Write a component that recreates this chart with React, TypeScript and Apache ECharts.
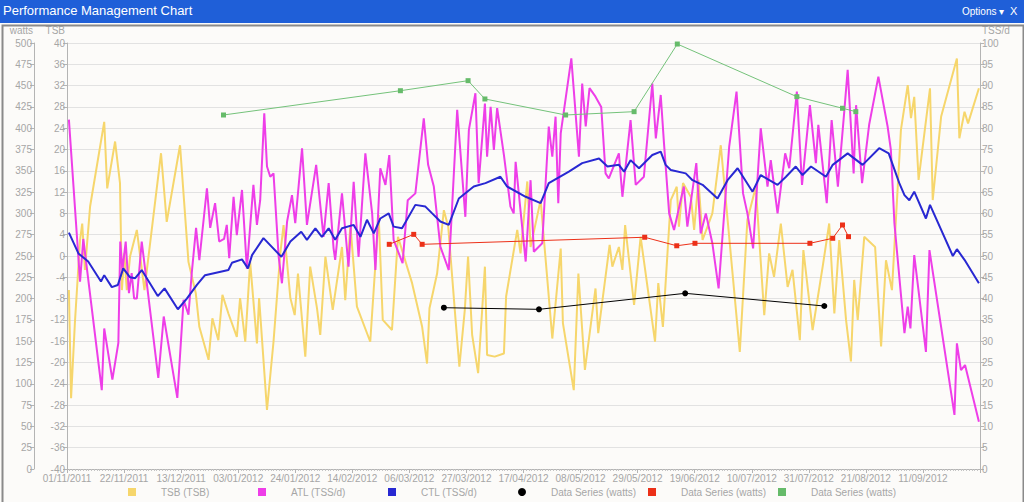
import React, { useEffect, useRef } from "react";
import * as echarts from "echarts";

// ---- axis setup (day index from 01/11/2011) ----
const START_UTC = Date.UTC(2011, 10, 1);
const DAY_MIN = 0;
const DAY_MAX = 336;
const DAY_STEP = 21;

const TSB_MIN = -40, TSB_MAX = 40, TSB_STEP = 4;
const TSS_MIN = 0, TSS_MAX = 100, TSS_STEP = 5;
const WATT_MIN = 0, WATT_MAX = 500, WATT_STEP = 25;

// ---- series: [day, value] ----
const tsbPoints: [number, number][] = [
  [0.7, -6.4], [1.5, -26.7], [2.9, -12.6], [4.8, 3], [5.6, 6.1], [6.6, -2.6], [8.5, 9.3],
  [13.7, 25.2], [14.8, 12.7], [17.7, 21.5], [19.5, 13.7], [20.2, -6.4], [21.1, 0.5], [22.0, -6.4],
  [23.2, -0.1], [25.7, 4.9], [28.5, -6.4], [34.6, 19.3], [36.7, 6.4], [41.6, 20.8], [44.7, -1.1],
  [47.4, -7], [48.7, -13.3], [52.1, -19.5], [53.5, -11.7], [55.7, -15.8], [57.2, -7.3], [59.4, -10.8],
  [62.5, -15.2], [63.7, -7.9], [65.6, -16.1], [67.4, -1.1], [69.9, -16.4], [70.7, -7.9], [73.6, -28.9],
  [76.0, -16.1], [78.5, 0.5], [79.7, 5.8], [82.2, -7.9], [83.8, -11.1], [85.0, -3.3], [87.7, -18.9],
  [89.5, -2], [92.0, -9.8], [93.2, -14.8], [95.1, -0.1], [97.8, -10.1], [101.2, 1.7], [102.4, -8.3],
  [104.3, 5.8], [106.7, -9.5], [111.6, -16.1], [114.7, 7.7], [116.2, -12], [119.6, -13.9], [121.8, 3.6],
  [127.0, -5.1], [130.7, -13.3], [132.5, -20.2], [133.4, -9.8], [136.2, -3.3], [138.7, 8.6], [140.3, 5.5],
  [143.0, -12], [144.4, -20.8], [146.4, -10.1], [147.6, -0.1], [149.1, -14.8], [151.3, -22], [153.8, -2],
  [154.6, -18.6], [157.4, -18.9], [160.8, -18.3], [161.6, -7.6], [165.7, 4.9], [166.9, 0.5], [169.4, 14],
  [170.6, 1.7], [174.3, 10.5], [178.6, -15.5], [181.7, 1.4], [182.5, -12.6], [186.5, -25.2], [188.2, -3.3],
  [190.6, -21.4], [194.5, -6.1], [195.5, -14.5], [199.7, 2.1], [200.7, -2], [203.1, 1.7], [204.4, -2.6],
  [205.4, 5.8], [208.7, -9.2], [211.1, 3.6], [216.4, -16.1], [217.6, -5.1], [219.3, -13.3], [222.2, 10.5],
  [224.4, 13], [225.2, 5.5], [226.7, 13.7], [229.6, 11.1], [230.8, 4.9], [232.4, 14.3], [233.9, 3],
  [237.5, 8], [240.6, 20.8], [244.7, -2], [247.6, -18], [250.4, 6.8], [253.5, 13], [256.6, -11.1],
  [258.4, 0.5], [260.2, -3.9], [262.7, 6.1], [265.2, -5.8], [267.0, -2.6], [269.7, -15.8], [271.0, 1.1],
  [274.4, -13.9], [278.1, -2], [280.5, 6.1], [282.4, -10.8], [284.2, 3], [286.7, -12], [288.5, -19.8],
  [289.7, -4.5], [291.0, -12], [293.4, 3.6], [297.4, 1.7], [299.6, -17], [301.4, -0.8], [303.6, -6.4],
  [306.9, 23.7], [309.4, 32.1], [310.6, 25.9], [311.8, 29.9], [313.4, 14.3], [317.6, 31.5], [318.6, 10.5],
  [321.7, 26.2], [327.5, 37.1], [328.4, 22.1], [330.3, 27.1], [331.6, 24.9], [335.6, 31.5],
];

const atlPoints: [number, number][] = [
  [0.7, 82], [4.8, 44], [6.0, 54], [12.8, 18.5], [13.7, 33], [16.7, 21], [18.9, 29.6], [19.6, 53.4],
  [20.4, 46.7], [21.6, 53.4], [22.8, 41.3], [23.8, 46], [24.7, 40], [25.7, 40], [27.5, 53.4], [33.6, 21.4],
  [35.6, 35.8], [40.6, 16.7], [42.9, 39.7], [44.7, 36.2], [45.9, 45.9], [47.5, 56.6], [48.7, 49],
  [51.5, 65.9], [52.7, 56.6], [54.5, 62.4], [56.0, 53.4], [57.8, 54], [58.8, 57.3], [59.7, 49.5],
  [61.3, 63.9], [62.5, 54.9], [64.4, 65.5], [66.2, 47], [68.6, 66.7], [69.9, 57.3], [71.1, 63.1],
  [72.6, 83.5], [73.6, 71], [74.8, 68.6], [76.0, 69.4], [77.9, 49.8], [79.1, 43.6], [81.0, 58.1],
  [82.8, 64.3], [84.0, 57.7], [86.5, 75.3], [88.3, 57.3], [91.7, 71.4], [94.4, 54.5], [96.3, 67.1],
  [98.1, 51.8], [98.7, 49.1], [101.2, 64.7], [102.4, 56.1], [103.6, 47.5], [105.5, 67.4], [107.3, 49.8],
  [109.8, 74.1], [112.3, 60], [113.5, 46.7], [115.3, 70.6], [117.2, 66.7], [118.6, 73.7], [120.2, 53.8],
  [123.5, 48.3], [125.4, 63.1], [128.2, 64.7], [131.3, 82.3], [132.9, 71.4], [135.0, 66.3], [137.4, 52.2],
  [140.5, 46.7], [143.6, 84.3], [146.6, 59.2], [147.9, 79.6], [150.3, 88.2], [151.5, 67.1], [153.8, 85.8],
  [154.6, 73.3], [155.9, 85], [157.1, 74.9], [158.3, 84.7], [160.8, 73.7], [163.2, 61.6], [164.4, 60],
  [165.1, 72.1], [167.5, 56.9], [168.8, 48.7], [170.6, 67.8], [171.8, 51], [174.9, 53], [177.3, 80.4],
  [178.6, 73.3], [179.8, 82.7], [180.8, 62.4], [181.7, 78.8], [185.6, 96.4], [186.5, 89], [188.4, 73.3],
  [189.6, 90.5], [190.9, 80.4], [192.3, 89.4], [194.5, 87.4], [196.6, 85], [198.2, 69.4], [199.4, 68.2],
  [203.1, 74.1], [204.4, 63.9], [207.4, 81.9], [209.3, 66.7], [212.3, 68.6], [215.4, 90.5], [216.7, 77.6],
  [218.5, 87.8], [219.7, 76.5], [221.6, 60], [223.4, 56.1], [227.0, 66.3], [228.3, 56.9], [231.6, 71.8],
  [233.2, 55.3], [235.1, 60], [237.5, 53], [239.8, 42.4], [243.7, 75.7], [246.4, 88.6], [248.8, 64.7],
  [250.4, 60], [252.5, 51.8], [255.3, 80], [257.8, 66.3], [259.0, 72.5], [261.5, 60], [264.3, 74.1],
  [265.8, 70.6], [268.6, 88.6], [270.5, 66.7], [273.4, 85.4], [275.6, 71.8], [276.5, 80.8], [279.6, 62.4],
  [281.4, 81.9], [283.7, 66.3], [286.1, 84.3], [287.3, 93.7], [289.5, 69.4], [290.4, 85.4], [292.6, 67.1],
  [295.2, 80.8], [298.6, 92.1], [302.0, 80.4], [303.2, 74.9], [304.5, 57.7], [308.2, 31.9], [309.4, 38.1],
  [310.4, 33], [311.8, 50.2], [316.1, 27.5], [317.4, 51.4], [326.6, 12.7], [327.5, 29.5], [329.0, 23.2],
  [330.5, 24.4], [335.6, 11.1],
];

const ctlPoints: [number, number][] = [
  [0.7, 55.5], [4.2, 50.6], [7.8, 48.7], [12.5, 44], [13.7, 45.5], [16.5, 42.7], [18.7, 43.2], [20.7, 47.1],
  [23.2, 45], [25.1, 44.8], [27.5, 46.7], [33.4, 40.6], [35.9, 42.4], [40.8, 37.5], [44.1, 40], [47.8, 43.2],
  [50.8, 45.5], [59.4, 46.7], [60.7, 48.4], [64.4, 49.2], [66.6, 47.1], [68.1, 50.2], [72.3, 54.2],
  [78.9, 49.8], [82.2, 53.4], [86.2, 55.7], [88.3, 53.8], [91.4, 56.5], [93.8, 54.5], [96.3, 56.5],
  [98.7, 53.8], [101.2, 56.5], [105.5, 57.3], [108.0, 54.5], [110.4, 58.5], [112.9, 55.3], [115.3, 58.8],
  [118.4, 60], [120.2, 56.9], [123.3, 56.5], [128.2, 62], [131.9, 61.6], [134.4, 60], [137.4, 58.1],
  [140.5, 57.3], [144.2, 63.5], [149.7, 66.3], [154.0, 67.1], [159.5, 68.6], [162.0, 66.3], [168.8, 63.9],
  [174.3, 62.4], [177.3, 67.1], [184.7, 69.8], [189.6, 71.8], [195.8, 72.9], [198.9, 71], [203.1, 71.4],
  [205.0, 69.8], [207.4, 72.5], [210.5, 70.6], [215.4, 73.7], [218.5, 74.5], [220.3, 71.4], [222.2, 70.2],
  [227.7, 69.4], [230.2, 67.8], [233.9, 66.7], [239.4, 63.5], [243.1, 67.8], [246.8, 70.6], [252.3, 65.1],
  [255.3, 69], [261.5, 66.7], [264.6, 68.6], [268.2, 71], [270.7, 69], [273.8, 71], [279.3, 68.6],
  [281.8, 71.4], [287.3, 74.1], [292.8, 71.4], [298.9, 75.3], [302.4, 74.1], [306.3, 67.1], [308.2, 64.3],
  [310.0, 63.1], [311.8, 65.1], [316.1, 58.8], [317.6, 62], [326.0, 50], [327.5, 51.6], [330.3, 49.1],
  [335.6, 43.6],
];

const blackWatts: [number, number][] = [
  [138.7, 189.3], [173.7, 187.4], [227.5, 206.2], [278.7, 191.3],
];
const redWatts: [number, number][] = [
  [118.6, 263.7], [127.6, 275.4], [130.7, 263.7], [212.6, 272], [224.4, 262], [231.1, 264.9],
  [273.4, 264.9], [281.8, 270.8], [285.4, 286.4], [287.6, 272.7],
];
const greenWatts: [number, number][] = [
  [57.6, 415.5], [122.7, 444], [147.6, 455.8], [153.8, 434.3], [183.5, 415.5], [208.7, 419.4],
  [224.6, 498.8], [268.6, 437], [285.4, 423.4], [290.3, 419.4],
];

const SERIES_NAMES = ["TSB (TSB)", "ATL (TSS/d)", "CTL (TSS/d)", "Data Series (watts)", "Data Series (watts) ", "Data Series (watts)  "];
const COLORS = ["#f6d66c", "#ee3ee8", "#2828d2", "#000000", "#ec3018", "#66bb6a"];

const FONT = "'Liberation Sans', Arial, sans-serif";
const GRAY = "#a6a6a6";

function fmtDay(v: number): string {
  const d = new Date(START_UTC + v * 86400000);
  const p = (n: number) => (n < 10 ? "0" + n : "" + n);
  return p(d.getUTCDate()) + "/" + p(d.getUTCMonth() + 1) + "/" + d.getUTCFullYear();
}

export default function App() {
  const ref = useRef<HTMLDivElement>(null);
  useEffect(() => {
    document.body.style.margin = "0";
    const chart = echarts.init(ref.current!, undefined, { renderer: "svg" });
    const yCommon = {
      type: "value" as const,
      axisLine: { show: true, lineStyle: { color: "#b4b4b4" } },
      axisTick: { show: true, length: 4, lineStyle: { color: "#b4b4b4" } },
      axisLabel: { color: GRAY, fontSize: 10, fontFamily: FONT, margin: 2 },
      nameTextStyle: { color: GRAY, fontSize: 10, fontFamily: FONT },
      nameGap: 8,
    };
    const legends = SERIES_NAMES.map((n, i) => ({
      left: 128 + 130 * i,
      top: 487,
      padding: 0,
      itemWidth: 8,
      itemHeight: 8,
      icon: i === 3 ? "circle" : "rect",
      data: [n],
      formatter: (name: string) => "{s| }{t|" + name.trim() + "}",
      textStyle: {
        color: GRAY,
        fontSize: 10,
        fontFamily: FONT,
        rich: { s: { width: 20 }, t: { color: GRAY, fontSize: 10, fontFamily: FONT } },
      },
    }));
    chart.setOption({
      animation: false,
      backgroundColor: "#fcfbf9",
      textStyle: { fontFamily: FONT },
      graphic: [
        { type: "rect", left: 0, top: 0, shape: { width: 1024, height: 23 }, style: { fill: "#1f5fd8" }, z: 100 },
        { type: "text", left: 3, top: 4, style: { text: "Performance Management Chart", fill: "#ffffff", font: "13px " + FONT }, z: 101 },
        { type: "text", left: 962, top: 6, style: { text: "Options \u25be", fill: "#ffffff", font: "10px " + FONT }, z: 101 },
        { type: "text", left: 1010, top: 5, style: { text: "X", fill: "#ffffff", font: "11px " + FONT }, z: 101 },
        { type: "rect", left: 0, top: 23, shape: { width: 1021, height: 478 }, style: { fill: "none", stroke: "#8a8a8a", lineWidth: 2 }, z: 100 },
      ],
      grid: { left: 67, right: 44, top: 43, bottom: 33 },
      legend: legends,
      xAxis: {
        type: "value",
        min: DAY_MIN,
        max: DAY_MAX,
        interval: DAY_STEP,
        axisLine: { onZero: false, lineStyle: { color: "#b4b4b4" } },
        axisTick: { show: true, length: 4, lineStyle: { color: "#b4b4b4" } },
        minorTick: { show: true, splitNumber: DAY_STEP, length: 2, lineStyle: { color: "#c4c4c4" } },
        splitLine: { show: false },
        axisLabel: { color: GRAY, fontSize: 10, fontFamily: FONT, margin: 4, showMaxLabel: false, formatter: (v: number) => fmtDay(v) },
      },
      yAxis: [
        {
          ...yCommon,
          position: "left",
          min: TSB_MIN, max: TSB_MAX, interval: TSB_STEP,
          name: "TSB",
          nameTextStyle: { ...yCommon.nameTextStyle, align: "right", padding: [0, 2, 0, 0] },
          splitLine: { show: true, lineStyle: { color: "#e2e2e2" } },
        },
        {
          ...yCommon,
          position: "right",
          min: TSS_MIN, max: TSS_MAX, interval: TSS_STEP,
          name: "TSS/d",
          nameTextStyle: { ...yCommon.nameTextStyle, align: "left", padding: [0, 0, 0, 2] },
          splitLine: { show: false },
        },
        {
          ...yCommon,
          position: "left",
          offset: 33,
          min: WATT_MIN, max: WATT_MAX, interval: WATT_STEP,
          name: "watts",
          nameTextStyle: { ...yCommon.nameTextStyle, align: "right", padding: [0, 1, 0, 0] },
          splitLine: { show: false },
        },
      ],
      series: [
        { name: SERIES_NAMES[0], type: "line", yAxisIndex: 0, data: tsbPoints, showSymbol: false, lineStyle: { width: 2, color: COLORS[0] }, itemStyle: { color: COLORS[0] }, z: 2 },
        { name: SERIES_NAMES[1], type: "line", yAxisIndex: 1, data: atlPoints, showSymbol: false, lineStyle: { width: 2, color: COLORS[1] }, itemStyle: { color: COLORS[1] }, z: 3 },
        { name: SERIES_NAMES[2], type: "line", yAxisIndex: 1, data: ctlPoints, showSymbol: false, lineStyle: { width: 2, color: COLORS[2] }, itemStyle: { color: COLORS[2] }, z: 4 },
        { name: SERIES_NAMES[3], type: "line", yAxisIndex: 2, data: blackWatts, symbol: "circle", symbolSize: 6, lineStyle: { width: 1, color: COLORS[3] }, itemStyle: { color: COLORS[3] }, z: 5 },
        { name: SERIES_NAMES[4], type: "line", yAxisIndex: 2, data: redWatts, symbol: "rect", symbolSize: 5, lineStyle: { width: 1, color: COLORS[4] }, itemStyle: { color: COLORS[4] }, z: 5 },
        { name: SERIES_NAMES[5], type: "line", yAxisIndex: 2, data: greenWatts, symbol: "rect", symbolSize: 5, lineStyle: { width: 1, color: "#74c27a" }, itemStyle: { color: COLORS[5] }, z: 5 },
      ],
    });
    return () => chart.dispose();
  }, []);
  return <div ref={ref} style={{ position: "fixed", left: 0, top: 0, width: 1024, height: 502 }} />;
}
